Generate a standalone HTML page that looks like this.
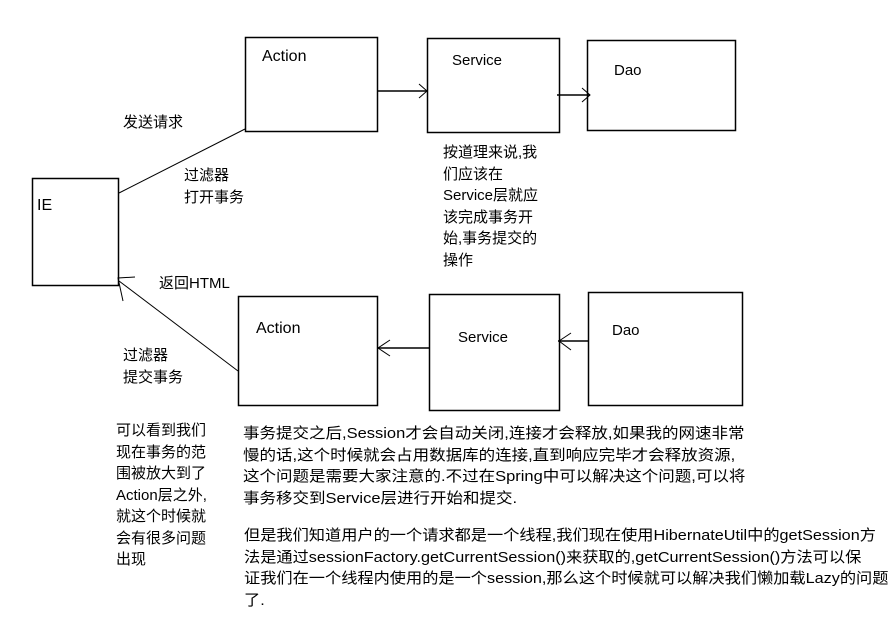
<!DOCTYPE html>
<html><head><meta charset="utf-8"><style>
body{margin:0;background:#fff;width:894px;height:617px;overflow:hidden;position:relative;font-family:"Liberation Sans","Noto Sans CJK SC",sans-serif;font-size:15px;color:#000}
.t{position:absolute;line-height:21.5px;white-space:nowrap}
.w{transform:scaleX(1.1);transform-origin:0 0}
svg{position:absolute;left:0;top:0}
</style></head><body>
<svg width="894" height="617" stroke="#000" fill="none" stroke-width="1.5">
<rect x="32.5" y="178.5" width="86" height="107"/>
<rect x="245.5" y="37.5" width="132" height="94"/>
<rect x="427.5" y="38.5" width="132" height="94"/>
<rect x="587.5" y="40.5" width="148" height="90"/>
<rect x="238.5" y="296.5" width="139" height="109"/>
<rect x="429.5" y="294.5" width="130" height="116"/>
<rect x="588.5" y="292.5" width="154" height="113"/>
<line x1="119" y1="193" x2="245" y2="129" stroke-width="1"/>
<line x1="377" y1="91" x2="427" y2="91"/><polyline points="419,84 427,91 419,98" stroke-width="1"/>
<line x1="557" y1="95" x2="590" y2="95"/><polyline points="582,88 590,95 582,102" stroke-width="1"/>
<line x1="588" y1="341" x2="558" y2="341"/><polyline points="571,333 559,341 571,350" stroke-width="1"/>
<line x1="430" y1="348" x2="378" y2="348"/><polyline points="390,340 378,348 390,356" stroke-width="1"/>
<line x1="238" y1="371" x2="119" y2="281" stroke-width="1"/>
<polyline points="135,277 118,278 123,301" stroke-width="1"/>
</svg>
<div class="t" style="left:262px;top:46px;font-size:16px">Action</div>
<div class="t" style="left:452px;top:50px">Service</div>
<div class="t" style="left:614px;top:60px">Dao</div>
<div class="t" style="left:37px;top:195px;font-size:16px">IE</div>
<div class="t" style="left:256px;top:318px;font-size:16px">Action</div>
<div class="t" style="left:458px;top:327px">Service</div>
<div class="t" style="left:612px;top:320px">Dao</div>
<div class="t" style="left:123px;top:112px">发送请求</div>
<div class="t" style="left:184px;top:165px">过滤器<br>打开事务</div>
<div class="t" style="left:159px;top:273px">返回HTML</div>
<div class="t" style="left:123px;top:345px">过滤器<br>提交事务</div>
<div class="t" style="left:443px;top:142px">按道理来说,我<br>们应该在<br>Service层就应<br>该完成事务开<br>始,事务提交的<br>操作</div>
<div class="t" style="left:116px;top:420px">可以看到我们<br>现在事务的范<br>围被放大到了<br>Action层之外,<br>就这个时候就<br>会有很多问题<br>出现</div>
<div class="t w" style="left:243px;top:423px">事务提交之后,Session才会自动关闭,连接才会释放,如果我的网速非常<br>慢的话,这个时候就会占用数据库的连接,直到响应完毕才会释放资源,<br>这个问题是需要大家注意的.不过在Spring中可以解决这个问题,可以将<br>事务移交到Service层进行开始和提交.</div>
<div class="t w" style="left:244px;top:525px;transform:scaleX(1.08)">但是我们知道用户的一个请求都是一个线程,我们现在使用HibernateUtil中的getSession方<br>法是通过sessionFactory.getCurrentSession()来获取的,getCurrentSession()方法可以保<br>证我们在一个线程内使用的是一个session,那么这个时候就可以解决我们懒加载Lazy的问题<br>了.</div>
</body></html>
